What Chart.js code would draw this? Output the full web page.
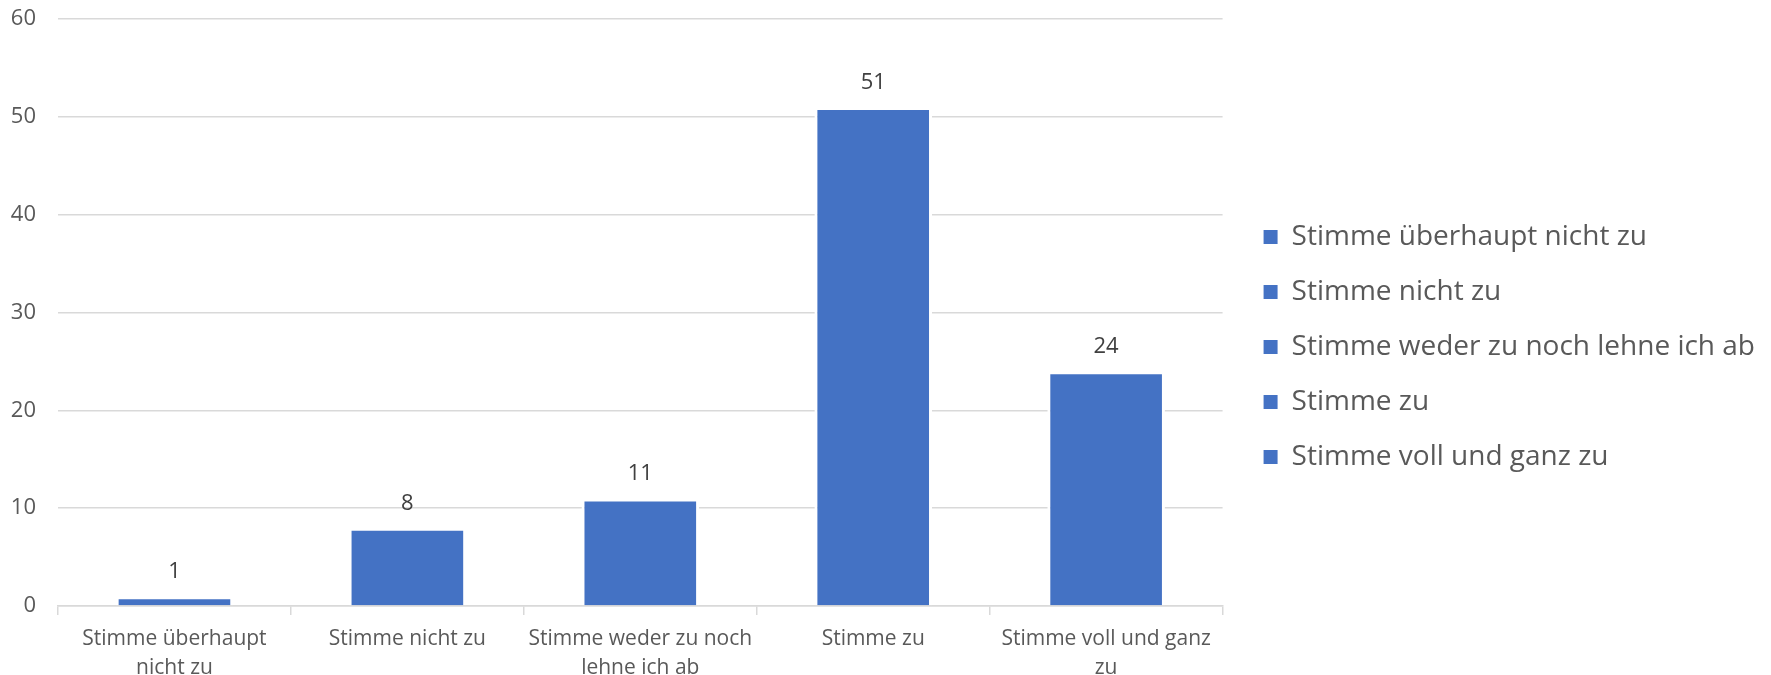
<!DOCTYPE html>
<html>
<head>
<meta charset="utf-8">
<script src="https://cdn.jsdelivr.net/npm/chart.js@4.4.1/dist/chart.umd.min.js"></script>
<style>
    html, body { margin: 0; padding: 0; background: #fff; }
    #wrap { width: 1771px; height: 675px; position: relative; }
</style>
</head>
<body>
<div id="wrap"><canvas id="chart"></canvas></div>
<script>
// categories (x-axis labels are wrapped the way the original shows them)
const categories = [
    'Stimme überhaupt nicht zu',
    'Stimme nicht zu',
    'Stimme weder zu noch lehne ich ab',
    'Stimme zu',
    'Stimme voll und ganz zu'
];
const axisLabels = [
    ['Stimme überhaupt', 'nicht zu'],
    ['Stimme nicht zu'],
    ['Stimme weder zu noch', 'lehne ich ab'],
    ['Stimme zu'],
    ['Stimme voll und ganz', 'zu']
];
const counts = [1, 8, 11, 51, 24];
const yTicks = [0, 10, 20, 30, 40, 50, 60];

const barColor = '#4472C4';
const textColor = '#595959';
const FONT = '"Open Sans", "DejaVu Sans", sans-serif';

// numbers above the bars
const valueLabels = {
    id: 'valueLabels',
    afterDatasetsDraw(chart) {
        const ctx = chart.ctx;
        const meta = chart.getDatasetMeta(0);
        ctx.save();
        ctx.font = '22px ' + FONT;
        ctx.fillStyle = '#404040';
        ctx.textAlign = 'center';
        ctx.textBaseline = 'alphabetic';
        meta.data.forEach((bar, i) => {
            ctx.fillText(String(counts[i]), bar.x, bar.y - 18);
        });
        ctx.restore();
    }
};

// keep the scales from pushing the plot area around for their outer labels
const noEdgePadding = (scale) => {
    scale.paddingLeft = 0;
    scale.paddingRight = 0;
    scale.paddingTop = 0;
    scale.paddingBottom = 0;
};

new Chart(document.getElementById('chart'), {
    type: 'bar',
    data: {
        labels: axisLabels,
        datasets: [{
            label: 'Anzahl',
            data: counts,
            backgroundColor: barColor,
            borderColor: '#ffffff',
            borderWidth: 3,
            barPercentage: 0.505,
            categoryPercentage: 1
        }]
    },
    options: {
        responsive: true,
        maintainAspectRatio: false,
        animation: false,
        layout: { padding: { top: 19, right: 6, bottom: 0, left: 11 } },
        plugins: {
            tooltip: { enabled: false },
            legend: {
                position: 'right',
                maxWidth: 700,
                labels: {
                    font: { family: FONT, size: 28 },
                    color: textColor,
                    boxWidth: 14,
                    boxHeight: 14,
                    padding: 27,
                    generateLabels: () => categories.map((c, i) => ({
                        text: c,
                        fillStyle: barColor,
                        strokeStyle: barColor,
                        fontColor: textColor,
                        lineWidth: 0,
                        index: i
                    }))
                }
            }
        },
        scales: {
            x: {
                afterFit: (scale) => { scale.height = 69; noEdgePadding(scale); },
                grid: {
                    offset: true,
                    drawOnChartArea: false,
                    drawTicks: true,
                    tickLength: 9,
                    color: '#d9d9d9',
                    lineWidth: 1.5
                },
                border: { display: true, color: '#d9d9d9', width: 1.5 },
                ticks: {
                    font: { family: FONT, size: 21, lineHeight: 1.35 },
                    color: textColor,
                    padding: 10,
                    maxRotation: 0,
                    autoSkip: false
                }
            },
            y: {
                min: 0,
                max: 60,
                afterBuildTicks: (scale) => {
                    scale.ticks = yTicks.map(v => ({ value: v }));
                },
                afterFit: (scale) => { scale.width = 47; noEdgePadding(scale); },
                grid: { color: '#d9d9d9', lineWidth: 1.5, drawTicks: false },
                border: { display: false },
                ticks: {
                    font: { family: FONT, size: 22 },
                    color: textColor,
                    padding: 22
                }
            },
            gap: {
                position: 'right',
                display: true,
                grid: { display: false },
                border: { display: false },
                ticks: { display: false },
                afterFit: (scale) => { scale.width = 14; noEdgePadding(scale); }
            }
        }
    },
    plugins: [valueLabels]
});
</script>
</body>
</html>
